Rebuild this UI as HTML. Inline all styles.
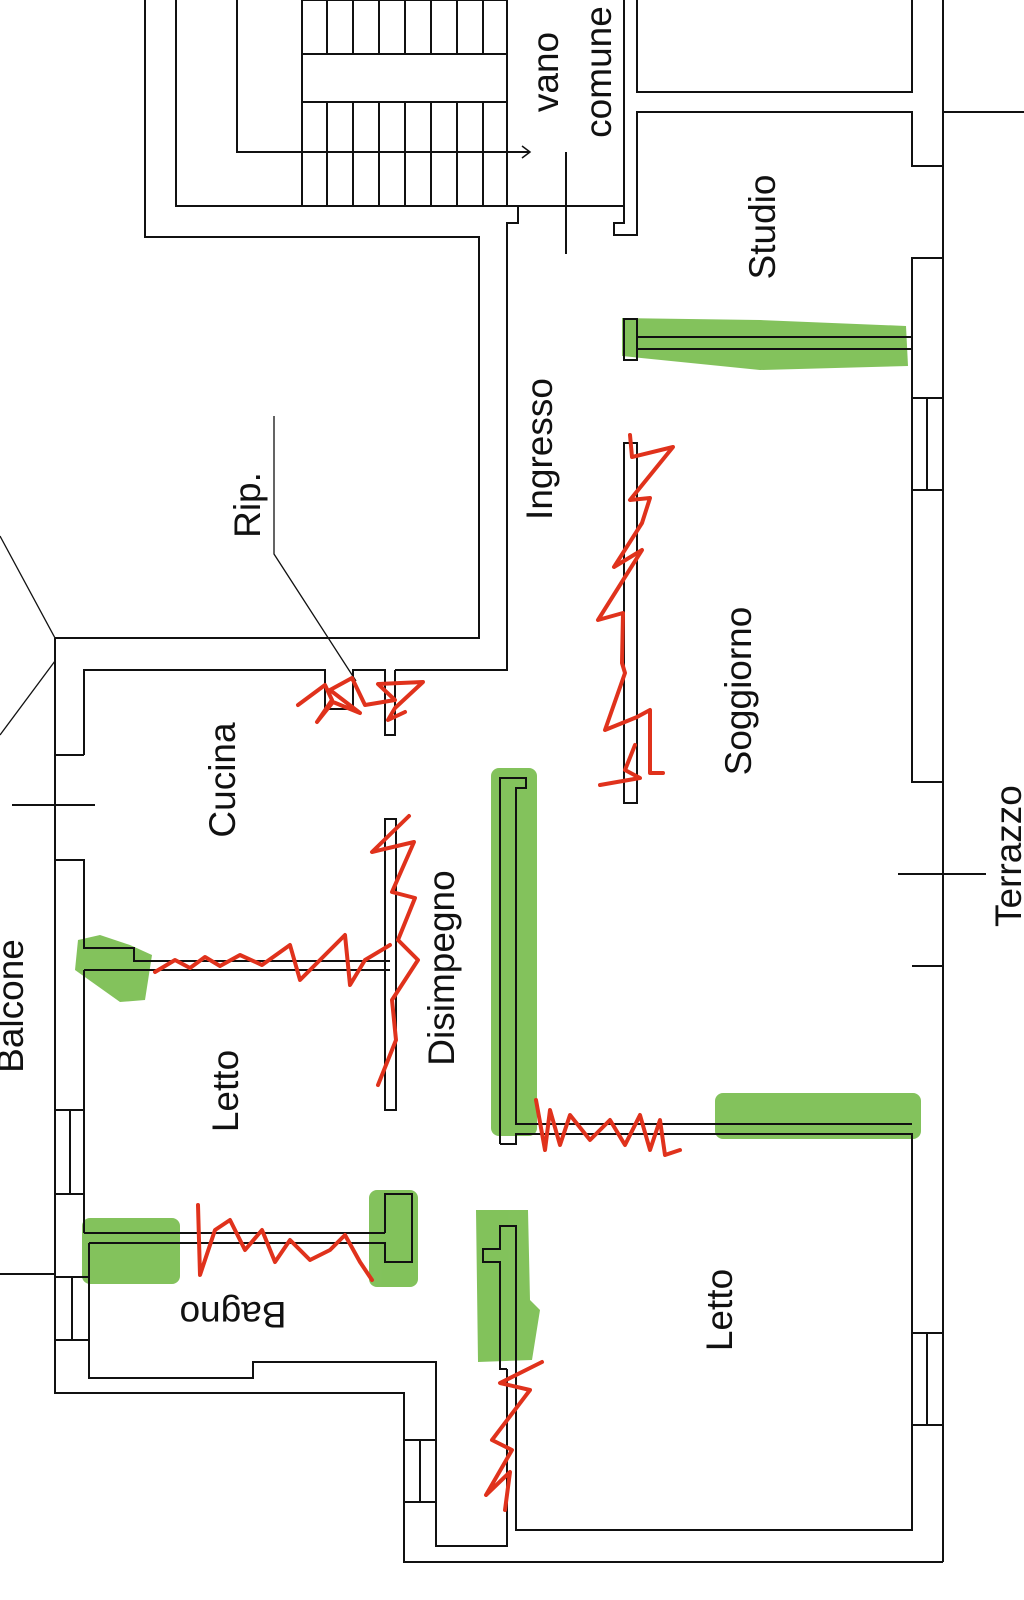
<!DOCTYPE html>
<html><head><meta charset="utf-8"><style>
html,body{margin:0;padding:0;background:#fff;}
svg{display:block;}
text{font-family:"Liberation Sans",sans-serif;font-size:37px;fill:#111;}
</style></head><body>
<svg width="1024" height="1600" viewBox="0 0 1024 1600" xmlns="http://www.w3.org/2000/svg">
<rect width="1024" height="1600" fill="#fff"/>

<!-- green highlights -->
<g fill="#78bd4e" opacity="0.92">
<path d="M622 318 L760 320 L906 326 L908 366 L760 370 L622 356 Z"/>
<rect x="491" y="768" width="46" height="368" rx="8"/>
<rect x="715" y="1093" width="206" height="46" rx="8"/>
<path d="M78 940 L100 935 L130 945 L152 955 L145 1000 L120 1002 L75 970 Z"/>
<rect x="82" y="1218" width="98" height="66" rx="8"/>
<rect x="369" y="1190" width="49" height="97" rx="8"/>
<path d="M476 1210 L528 1210 L530 1300 L540 1310 L532 1360 L478 1362 Z"/>
</g>

<g fill="none" stroke="#111" stroke-width="2">
<!-- stairwell -->
<polyline points="145,0 145,237 479,237 479,638 55,638"/>
<polyline points="176,0 176,206 518,206 518,223 507,223 507,670 395,670"/>
<rect x="302" y="0" width="205" height="206"/>
<line x1="302" y1="54" x2="507" y2="54"/>
<line x1="302" y1="102" x2="507" y2="102"/>
<g>
<line x1="327" y1="0" x2="327" y2="54"/><line x1="353" y1="0" x2="353" y2="54"/><line x1="379" y1="0" x2="379" y2="54"/><line x1="405" y1="0" x2="405" y2="54"/><line x1="431" y1="0" x2="431" y2="54"/><line x1="457" y1="0" x2="457" y2="54"/><line x1="483" y1="0" x2="483" y2="54"/>
<line x1="327" y1="102" x2="327" y2="206"/><line x1="353" y1="102" x2="353" y2="206"/><line x1="379" y1="102" x2="379" y2="206"/><line x1="405" y1="102" x2="405" y2="206"/><line x1="431" y1="102" x2="431" y2="206"/><line x1="457" y1="102" x2="457" y2="206"/><line x1="483" y1="102" x2="483" y2="206"/>
</g>
<polyline points="237,0 237,152 530,152"/>
<polyline points="522,146 530,152 522,158" stroke-width="1.5"/>
<!-- right of stair -->
<polyline points="624,0 624,223 614,223 614,235 637,235 637,112 912,112 912,166 943,166"/>
<polyline points="637,0 637,92 912,92 912,0"/>
<line x1="518" y1="206" x2="624" y2="206"/>
<line x1="566" y1="152" x2="566" y2="254"/>
<line x1="943" y1="0" x2="943" y2="1562"/>
<line x1="943" y1="112" x2="1024" y2="112"/>
<!-- studio/soggiorno outer wall -->
<polyline points="943,258 912,258 912,782 943,782"/>
<line x1="912" y1="398" x2="943" y2="398"/><line x1="912" y1="490" x2="943" y2="490"/><line x1="927" y1="398" x2="927" y2="490"/>
<!-- studio wall -->
<rect x="624" y="319" width="13" height="41"/>
<line x1="637" y1="337" x2="912" y2="337"/><line x1="637" y1="349" x2="912" y2="349"/>
<!-- soggiorno half wall -->
<rect x="624" y="443" width="13" height="360"/>
<!-- Rip leader -->
<polyline points="274,416 274,554 356,681" stroke-width="1.3"/>
<!-- balcony diagonals -->
<line x1="0" y1="536" x2="55" y2="638" stroke-width="1.3"/>
<line x1="55" y1="661" x2="0" y2="735" stroke-width="1.3"/>
<!-- cucina walls -->
<polyline points="84,755 84,670 325,670 325,709 353,709 353,670 385,670 385,735 395,735 395,670"/>
<polyline points="55,638 55,1393 404,1393 404,1562 943,1562"/>
<line x1="55" y1="755" x2="84" y2="755"/>
<line x1="12" y1="805" x2="95" y2="805"/>
<polyline points="55,860 84,860 84,948 134,948 134,961 390,961"/>
<line x1="84" y1="970" x2="390" y2="970"/>
<rect x="385" y="819" width="11" height="291"/>
<line x1="84" y1="970" x2="84" y2="1233"/>
<line x1="55" y1="1110" x2="84" y2="1110"/><line x1="55" y1="1194" x2="84" y2="1194"/><line x1="70" y1="1110" x2="70" y2="1194"/>
<!-- bagno -->
<line x1="84" y1="1233" x2="385" y2="1233"/>
<polyline points="89,1243 385,1243 385,1262 412,1262 412,1194 385,1194 385,1233"/>
<line x1="0" y1="1274" x2="55" y2="1274"/>
<line x1="55" y1="1277" x2="89" y2="1277"/><line x1="55" y1="1340" x2="89" y2="1340"/><line x1="72" y1="1277" x2="72" y2="1340"/>
<polyline points="89,1243 89,1378 253,1378 253,1362 436,1362 436,1546 507,1546 507,1369"/>
<line x1="404" y1="1440" x2="436" y2="1440"/><line x1="404" y1="1502" x2="436" y2="1502"/><line x1="420" y1="1440" x2="420" y2="1502"/>
<!-- big L -->
<polyline points="500,1144 500,778 526,778 526,788 516,788 516,1124 912,1124"/>
<polyline points="500,1144 516,1144 516,1134 912,1134 912,1530 516,1530 516,1226 500,1226 500,1249 483,1249 483,1262 500,1262 500,1369 507,1369"/>
<line x1="912" y1="966" x2="943" y2="966"/>
<line x1="898" y1="874" x2="986" y2="874"/>
<line x1="912" y1="1333" x2="943" y2="1333"/><line x1="912" y1="1425" x2="943" y2="1425"/><line x1="927" y1="1333" x2="927" y2="1425"/>
</g>

<!-- red scribbles -->
<g fill="none" stroke="#e0321c" stroke-width="4" stroke-linecap="round" stroke-linejoin="round">
<polyline points="630,435 632,457 673,447 630,500 650,498 642,523 614,567 642,550 598,620 623,613 622,663 625,673 605,730 637,717 650,710 650,773 663,773"/>
<polyline points="600,785 640,778 625,770 635,745"/>
<polyline points="298,705 325,685 332,700 317,722 333,702 360,713 330,690 352,678 365,705 395,700 378,684 423,682 395,708 388,720 405,712"/>
<polyline points="409,816 372,852 414,842 392,892 415,898 398,940 418,960 392,1000 396,1040 378,1085"/>
<polyline points="155,972 175,960 190,968 205,957 220,966 240,955 262,965 290,945 300,980 325,955 345,935 350,985 365,960 390,945"/>
<polyline points="536,1100 545,1150 550,1110 560,1145 570,1115 590,1140 610,1120 625,1145 640,1115 650,1150 660,1120 665,1155 680,1150"/>
<polyline points="198,1205 200,1275 215,1230 230,1220 245,1250 262,1230 275,1262 290,1240 310,1260 330,1250 345,1235 360,1262 372,1280"/>
<polyline points="542,1362 500,1383 530,1390 492,1440 512,1450 486,1495 510,1472 505,1510"/>
</g>

<!-- labels -->
<text transform="translate(558,72) rotate(-90)" text-anchor="middle">vano</text>
<text transform="translate(611,72) rotate(-90)" text-anchor="middle">comune</text>
<text transform="translate(775,227) rotate(-90)" text-anchor="middle">Studio</text>
<text transform="translate(552,449) rotate(-90)" text-anchor="middle">Ingresso</text>
<text transform="translate(260,505) rotate(-90)" text-anchor="middle">Rip.</text>
<text transform="translate(751,691) rotate(-90)" text-anchor="middle">Soggiorno</text>
<text transform="translate(235,780) rotate(-90)" text-anchor="middle">Cucina</text>
<text transform="translate(454,968) rotate(-90)" text-anchor="middle">Disimpegno</text>
<text transform="translate(238,1091) rotate(-90)" text-anchor="middle">Letto</text>
<text transform="translate(732,1310) rotate(-90)" text-anchor="middle">Letto</text>
<text transform="translate(233,1302) rotate(180)" text-anchor="middle">Bagno</text>
<text transform="translate(1021,927) rotate(-90)" text-anchor="start">Terrazzo</text>
<text transform="translate(23,1006) rotate(-90)" text-anchor="middle">Balcone</text>
</svg>
</body></html>
